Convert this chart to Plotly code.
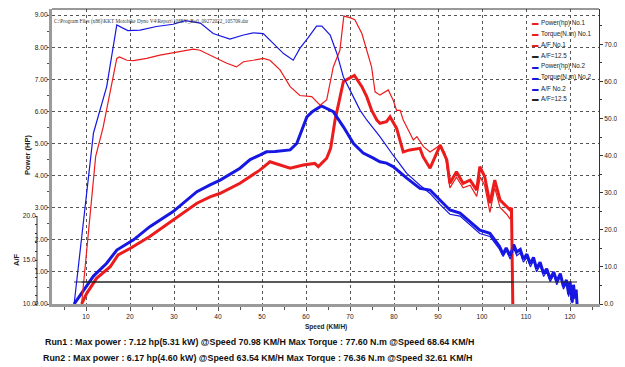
import plotly.graph_objects as go

# ---------------- data ----------------
speed_p1 = [9.0, 10.2, 12.4, 15.5, 17.3, 20.0, 24.5, 29.8, 35.2, 38.2, 40.5, 45.0, 49.5, 51.8, 54.1,
            56.4, 59.4, 62.0, 62.8, 64.7, 65.6, 66.6, 68.5, 71.0, 72.7, 73.8, 74.9, 76.1, 76.8, 78.3,
            79.1, 80.6, 82.1, 83.6, 85.9, 86.6, 88.2, 90.5, 92.0, 92.7, 94.2, 95.7, 97.3, 98.8, 99.5,
            100.6, 101.8, 102.9, 104.1, 105.6, 106.4, 106.7, 107.0]
power_p1 = [0, 0.34, 0.80, 1.16, 1.53, 1.73, 2.10, 2.62, 3.14, 3.34, 3.45, 3.76, 4.17, 4.43, 4.33,
            4.23, 4.33, 4.38, 4.28, 4.54, 4.85, 5.73, 6.93, 7.12, 6.77, 6.46, 6.04, 5.73, 5.63, 5.68,
            5.83, 5.47, 4.74, 4.80, 4.85, 4.59, 4.23, 4.95, 4.49, 3.76, 4.12, 3.76, 3.86, 3.55, 4.28,
            3.97, 3.14, 3.86, 3.24, 3.03, 2.93, 3.00, 0]

speed_t1 = [9.0, 12.2, 13.9, 17.0, 17.6, 19.3, 20.8, 23.8, 26.8, 29.1, 32.9, 34.4, 35.9, 38.9, 42.0,
            44.2, 45.8, 48.0, 50.3, 51.8, 54.1, 56.4, 58.6, 61.3, 63.2, 64.7, 66.2, 67.7, 68.6, 70.0,
            71.1, 72.7, 73.8, 74.9, 75.7, 76.8, 78.7, 79.8, 80.6, 81.4, 82.1, 84.4, 85.2, 86.7, 88.2,
            90.5, 91.6, 92.7, 94.2, 95.7, 97.3, 98.8, 99.6, 100.6, 101.8, 102.9, 104.1, 105.6, 106.4,
            106.7, 107.0]
torque_t1 = [0, 39.8, 47.7, 66.2, 66.6, 65.7, 65.6, 66.2, 67.1, 67.6, 68.4, 68.7, 68.4, 66.6, 64.9,
             63.9, 65.3, 65.7, 66.2, 65.7, 63.1, 58.6, 56.2, 55.9, 53.6, 55.0, 63.9, 68.4, 77.6, 77.2,
             76.6, 72.9, 68.4, 63.9, 57.2, 56.3, 57.7, 55.0, 52.2, 52.2, 49.6, 44.2, 45.1, 42.4, 41.0,
             42.8, 40.6, 31.3, 34.2, 31.3, 32.0, 29.0, 34.2, 32.0, 24.7, 31.3, 26.0, 24.2, 22.9,
             24.7, 0]

speed_p2 = [7.3, 10.2, 11.7, 14.7, 17.0, 20.8, 24.5, 29.8, 35.2, 38.2, 40.5, 45.0, 47.3, 49.5, 51.0,
            53.0, 56.4, 57.9, 60.2, 61.5, 63.5, 66.2, 68.5, 70.8, 73.0, 75.2, 76.8, 78.3, 79.8, 82.9,
            85.9, 88.2, 90.5, 92.7, 95.0, 97.3, 99.5, 101.8, 104.0, 104.8, 105.5, 106.4, 107.2, 107.9,
            108.7, 109.4, 110.2, 111.0, 111.7, 112.4, 113.2, 114.0, 114.7, 115.5, 116.3, 117.0, 117.8,
            118.5, 119.2, 119.7, 120.0, 120.5, 120.8, 121.1, 121.4, 121.6]
power_p2 = [0, 0.59, 0.87, 1.27, 1.68, 2.00, 2.41, 2.88, 3.50, 3.71, 3.86, 4.23, 4.50, 4.64, 4.74,
            4.75, 4.80, 5.00, 5.83, 6.00, 6.17, 5.99, 5.52, 5.00, 4.70, 4.55, 4.43, 4.39, 4.28, 3.92,
            3.60, 3.55, 3.24, 2.93, 2.83, 2.56, 2.30, 2.20, 1.79, 1.55, 1.75, 1.50, 1.85, 1.62,
            1.70, 1.40, 1.55, 1.25, 1.45, 1.10, 1.30, 0.95, 1.10, 0.78, 1.00, 0.70, 0.95,
            0.55, 0.75, 0.30, 0.70, 0.05, 0.60, 0.20, 0.45, 0]

speed_t2 = [7.3, 11.4, 11.7, 14.7, 17.0, 19.5, 22.3, 26.0, 29.8, 32.6, 36.0, 38.9, 42.7, 45.8, 48.0,
            50.3, 52.6, 54.9, 57.1, 58.6, 60.5, 62.4, 63.6, 65.5, 67.0, 68.5, 70.4, 72.3, 73.8, 76.8,
            79.8, 82.9, 85.9, 88.2, 90.5, 92.7, 95.0, 97.3, 99.5, 101.8, 104.0, 104.8, 105.5, 106.4,
            107.2, 107.9, 108.7, 109.4, 110.2, 111.0, 111.7, 112.4, 113.2, 114.0, 114.7, 115.5, 116.3,
            117.0, 117.8, 118.5, 119.2, 119.7, 120.0, 120.5, 120.8, 121.1, 121.4, 121.6]
torque_t2 = [0, 41.5, 46.1, 58.6, 75.2, 73.7, 73.8, 74.8, 75.4, 76.4, 75.7, 72.9, 71.4, 72.5, 73.1,
             72.9, 70.2, 67.5, 65.7, 68.9, 71.8, 74.9, 74.9, 72.5, 67.6, 61.2, 56.7, 52.2, 49.6, 45.1,
             40.1, 35.2, 32.0, 29.8, 26.8, 24.2, 23.7, 21.2, 19.0, 18.2, 14.7, 12.8, 14.4, 12.1,
             15.1, 13.0, 13.8, 11.3, 12.5, 10.0, 11.7, 8.7, 10.4, 7.4, 8.7, 6.0, 7.8,
             5.2, 7.4, 4.0, 5.6, 2.0, 5.2, 0.2, 4.3, 1.3, 3.0, 0]

af_target = 12.5
af_speed_run1 = [9.0, 107.0]
af_speed_run2 = [7.3, 121.6]
af_ticks = [10, 15, 20]

legend_names = ["Power(hp) No.1", "Torque(N.m) No.1", "A/F No.1", "A/F=12.5",
                "Power(hp) No.2", "Torque(N.m) No.2", "A/F No.2", "A/F=12.5"]

file_path = r"C:\Program Files (x86)\KKT Motobike Dyno V4\Report\108EV_Bo0_09272022_105709.dar"
run1_text = "Run1 : Max power : 7.12 hp(5.31 kW) @Speed 70.98 KM/H Max Torque : 77.60 N.m @Speed 68.64 KM/H"
run2_text = "Run2 : Max power : 6.17 hp(4.60 kW) @Speed 63.54 KM/H Max Torque : 76.36 N.m @Speed 32.61 KM/H"

for a, b in [(speed_p1, power_p1), (speed_t1, torque_t1), (speed_p2, power_p2), (speed_t2, torque_t2)]:
    assert len(a) == len(b), (len(a), len(b))

# ---------------- styling ----------------
RED = "#ec1c1c"
BLUE = "#1717e3"
DARK = "#222222"
FONT = "Liberation Sans, Arial, sans-serif"

# The page body has an 8px default margin, so the figure is drawn 8px smaller
# and every reference pixel coordinate is shifted by that offset.
OFF = 8
W, H = 625 - OFF, 367 - OFF
ML, MR, MT, MB = 52 - 30, 26, 1, 63   # plot area: ref x 52..599, y 9..304
PW = W - ML - MR
PH = H - MT - MB
AF_PX = 88  # pixel height of the A/F scale (10 -> 20)


def px(xp):  # reference pixel x -> paper
    return (xp - OFF - ML) / PW


def py(yp):  # reference pixel y -> paper
    return (H - MB - (yp - OFF)) / PH


fig = go.Figure()

fig.add_trace(go.Scatter(x=speed_t1, y=torque_t1, yaxis="y2", mode="lines",
                         line=dict(color=RED, width=1.2), name=legend_names[1]))
fig.add_trace(go.Scatter(x=speed_t2, y=torque_t2, yaxis="y2", mode="lines",
                         line=dict(color=BLUE, width=1.2), name=legend_names[5]))
fig.add_trace(go.Scatter(x=speed_p1, y=power_p1, mode="lines",
                         line=dict(color=RED, width=3), name=legend_names[0]))
fig.add_trace(go.Scatter(x=speed_p2, y=power_p2, mode="lines",
                         line=dict(color=BLUE, width=3), name=legend_names[4]))
fig.add_trace(go.Scatter(x=af_speed_run1, y=[af_target] * len(af_speed_run1), yaxis="y3",
                         mode="lines", line=dict(color=DARK, width=1), name=legend_names[3]))
fig.add_trace(go.Scatter(x=af_speed_run2, y=[af_target] * len(af_speed_run2), yaxis="y3",
                         mode="lines", line=dict(color=DARK, width=1), name=legend_names[7]))

tickfont = dict(family=FONT, size=6.6, color=DARK)
x_lo = (52 - 42) / 4.4
x_hi = x_lo + (599 - 52) / 4.4
af_top = af_ticks[0] + (af_ticks[-1] - af_ticks[0]) * PH / AF_PX
af_all = list(range(af_ticks[0], af_ticks[-1] + 1))

fig.update_layout(
    width=W, height=H,
    margin=dict(l=ML, r=MR, t=MT, b=MB, autoexpand=False),
    paper_bgcolor="white", plot_bgcolor="white",
    showlegend=False,
    xaxis=dict(domain=[px(52), 1], range=[x_lo, x_hi], tick0=0, dtick=10,
               showgrid=True, gridcolor="#555", griddash="dot", gridwidth=1,
               showline=True, linecolor="#9a9a9a", linewidth=3,
               ticks="outside", ticklen=4, tickcolor="#555", tickfont=tickfont,
               minor=dict(dtick=5, ticks="outside", ticklen=3, tickcolor="#555", showgrid=False),
               zeroline=False),
    yaxis=dict(range=[0, PH / 32.1], tick0=0, dtick=1, tickformat=".2f",
               showgrid=True, gridcolor="#555", griddash="dot", gridwidth=1,
               showline=True, linecolor="#9a9a9a", linewidth=3,
               ticks="outside", ticklen=2, tickcolor="#555", tickfont=tickfont,
               ticklabelstandoff=-2,
               minor=dict(dtick=0.5, ticks="outside", ticklen=2, tickcolor="#555", showgrid=False),
               zeroline=False),
    yaxis2=dict(overlaying="y", side="right", range=[0, PH / 3.71], tick0=0, dtick=10,
                tickformat=".1f", showgrid=False, zeroline=False,
                showline=True, linecolor="#333", linewidth=1,
                ticks="outside", ticklen=3, tickcolor="#333", tickfont=tickfont,
                minor=dict(dtick=5, ticks="outside", ticklen=2, tickcolor="#333")),
    yaxis3=dict(overlaying="y", range=[af_ticks[0], af_top], anchor="free", position=px(37), side="left",
                tickvals=af_all, ticktext=[("%.1f" % v if v in af_ticks else "") for v in af_all],
                showgrid=False, zeroline=False, showline=False, ticklabelstandoff=-2,
                ticks="outside", ticklen=2, tickcolor="#333", tickfont=tickfont),
    shapes=[
        # A/F axis spine (10 -> 20 only)
        dict(type="line", xref="paper", yref="y3", x0=px(37), x1=px(37), y0=af_ticks[0], y1=af_ticks[-1],
             line=dict(color="#333", width=1)),
        # top frame
        dict(type="line", xref="paper", yref="paper", x0=px(52), x1=1, y0=1, y1=1,
             line=dict(color="#333", width=1)),
    ],
)

ann = []
ann.append(dict(text=file_path, x=px(52), y=py(22), xanchor="left", yanchor="middle",
                font=dict(family="Liberation Serif, serif", size=5.2, color="#333")))
ann.append(dict(text="<b>Power (HP)</b>", x=px(27), y=py(155), textangle=-90,
                xanchor="center", yanchor="middle", font=dict(family=FONT, size=7.5, color=DARK)))
ann.append(dict(text="<b>A/F</b>", x=px(16), y=py(260), textangle=-90,
                xanchor="center", yanchor="middle", font=dict(family=FONT, size=7.5, color=DARK)))
ann.append(dict(text="<b>Torque (N.m)</b>", x=px(620), y=py(155), textangle=-90,
                xanchor="center", yanchor="middle", font=dict(family=FONT, size=7.5, color=DARK)))
ann.append(dict(text="<b>Speed (KM/H)</b>", x=px(326), y=py(327),
                xanchor="center", yanchor="middle", font=dict(family=FONT, size=6.5, color=DARK)))
ann.append(dict(text="<b>" + run1_text + "</b>", x=px(43), y=py(342), xanchor="left", yanchor="middle",
                font=dict(family=FONT, size=8.9, color="#111")))
ann.append(dict(text="<b>" + run2_text + "</b>", x=px(41), y=py(358), xanchor="left", yanchor="middle",
                font=dict(family=FONT, size=8.9, color="#111")))

legend_colors = [RED, RED, RED, DARK, BLUE, BLUE, BLUE, DARK]
for i, (c, n) in enumerate(zip(legend_colors, legend_names)):
    yc = 22.7 + i * 10.9
    ann.append(dict(text="<b>▬</b>", x=px(530), y=py(yc), xanchor="left", yanchor="middle",
                    font=dict(family=FONT, size=6.5, color=c)))
    ann.append(dict(text=n, x=px(539), y=py(yc), xanchor="left", yanchor="middle",
                    font=dict(family=FONT, size=6.3, color=DARK)))

for a in ann:
    a.update(xref="paper", yref="paper", showarrow=False)
fig.update_layout(annotations=ann)

fig.write_html("out.html")
